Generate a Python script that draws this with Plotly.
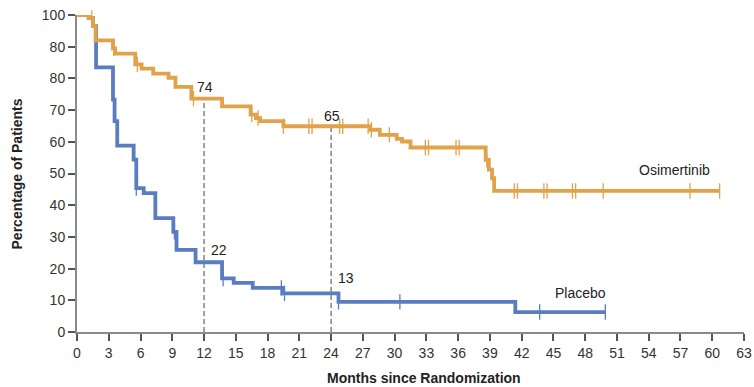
import plotly.graph_objects as go
import bisect

# ---------------- data ----------------
osi_months = [0, 1.1, 1.5, 1.75, 3.4, 3.6, 5.5, 6.1, 7.2, 8.65, 9.3, 10.8, 13.7, 16.4, 16.9,
              17.3, 19.5, 27.7, 28.6, 30.2, 30.7, 31.5, 38.6, 38.9, 39.2, 39.4, 60.7]
osi_pct = [100, 99.1, 96.5, 92.0, 89.5, 87.8, 84.4, 83.1, 81.5, 80.2, 77.3, 73.6, 71.2, 68.6, 67.5,
           66.5, 64.9, 63.8, 62.2, 60.9, 60.1, 58.2, 54.3, 51.2, 48.5, 44.5, 44.5]
osi_censor = [1.4, 3.5, 5.7, 11.0, 16.5, 17.1, 19.5, 21.9, 22.2, 24.8, 25.1, 27.5, 27.8, 29.5,
              32.9, 33.2, 35.8, 36.1, 38.7, 41.3, 41.6, 44.1, 44.4, 46.8, 47.1, 49.7, 57.9, 60.7]

pla_months = [0, 1.1, 1.5, 1.8, 3.4, 3.55, 3.8, 5.35, 5.6, 6.3, 7.4, 9.1, 9.4, 11.2, 13.7,
              14.8, 16.6, 19.4, 24.7, 41.4, 49.9]
pla_pct = [100, 99.1, 96.5, 83.5, 73.3, 66.5, 58.8, 54.4, 45.4, 43.8, 35.9, 31.6, 25.9, 22.0, 16.9,
           15.5, 13.9, 12.2, 9.5, 6.3, 6.3]
pla_censor = [5.6, 9.2, 13.8, 19.3, 19.6, 24.7, 30.5, 43.7, 49.9]

landmark_months = [12, 24]
landmark_osi = [74, 65]
landmark_pla = [22, 13]

x_ticks = list(range(0, 64, 3))
y_ticks = [0, 10, 20, 30, 40, 50, 60, 70, 80, 90, 100]
y_tick_labels = ["0", "10", "20", "30", "40", "50", "60", "70", "80", "80", "100"]

ORANGE = "#E1A24A"
BLUE = "#5A7DC0"
FONT = "Liberation Sans"


def step_at(times, vals, t):
    i = bisect.bisect_right(times, t) - 1
    return vals[max(i, 0)]


fig = go.Figure()

# dashed landmark lines
for m, v in zip(landmark_months, landmark_osi):
    fig.add_trace(go.Scatter(x=[m, m], y=[0, v], mode="lines",
                             line=dict(color="#444444", width=1, dash="5px,3px"),
                             hoverinfo="skip", showlegend=False))

# curves
for times, vals, cens, col in [(pla_months, pla_pct, pla_censor, BLUE),
                               (osi_months, osi_pct, osi_censor, ORANGE)]:
    fig.add_trace(go.Scatter(x=times, y=vals, mode="lines", line_shape="hv",
                             line=dict(color=col, width=3.8), cliponaxis=False,
                             showlegend=False))
    fig.add_trace(go.Scatter(x=cens, y=[step_at(times, vals, c) for c in cens],
                             mode="markers", cliponaxis=False, showlegend=False,
                             marker=dict(symbol="line-ns", size=11,
                                         line=dict(color=col, width=1.3))))

# landmark labels
for m, v in zip(landmark_months, landmark_osi):
    fig.add_annotation(x=m + 0.1, y=v + 3.2, text=str(v), showarrow=False,
                       font=dict(family=FONT, size=14, color="#222222"))
for m, v in zip(landmark_months, landmark_pla):
    fig.add_annotation(x=m + 1.4, y=v + 4.0, text=str(v), showarrow=False,
                       font=dict(family=FONT, size=14, color="#222222"))

fig.add_annotation(x=56.4, y=51, text="Osimertinib", showarrow=False,
                   font=dict(family=FONT, size=14, color="#222222"))
fig.add_annotation(x=47.6, y=12.2, text="Placebo", showarrow=False,
                   font=dict(family=FONT, size=14, color="#222222"))

# axis titles
fig.add_annotation(xref="paper", yref="paper", x=-0.09, y=0.5, text="<b>Percentage of Patients</b>",
                   textangle=-90, showarrow=False, xanchor="center", yanchor="middle",
                   font=dict(family=FONT, size=14, color="#222222"))
fig.add_annotation(xref="paper", yref="paper", x=0.52, y=-0.145, text="<b>Months since Randomization</b>",
                   showarrow=False, xanchor="center", yanchor="middle",
                   font=dict(family=FONT, size=14, color="#222222"))

fig.update_layout(
    width=754, height=387,
    margin=dict(l=77, r=10, t=15, b=55, autoexpand=False),
    plot_bgcolor="white", paper_bgcolor="white",
    font=dict(family=FONT, size=14, color="#333333"),
    showlegend=False,
)
fig.update_xaxes(range=[0, 63], tickvals=x_ticks, ticktext=[str(t) for t in x_ticks],
                 automargin=False, ticklabeloverflow="allow",
                 showgrid=False, zeroline=False, showline=True, linecolor="#8a8a8a", linewidth=2,
                 ticks="outside", ticklen=7, tickwidth=1.5, tickcolor="#555555",
                 tickfont=dict(family=FONT, size=14, color="#333333"))
fig.update_yaxes(range=[0, 100], tickvals=y_ticks, ticktext=y_tick_labels,
                 automargin=False, ticklabeloverflow="allow",
                 showgrid=False, zeroline=False, showline=True, linecolor="#8a8a8a", linewidth=2,
                 ticks="outside", ticklen=7, tickwidth=1.5, tickcolor="#555555",
                 tickfont=dict(family=FONT, size=14, color="#333333"))

fig.write_html("out.html", config={"displayModeBar": False},
               post_script="document.body.style.margin='0';document.body.style.overflow='hidden';")
